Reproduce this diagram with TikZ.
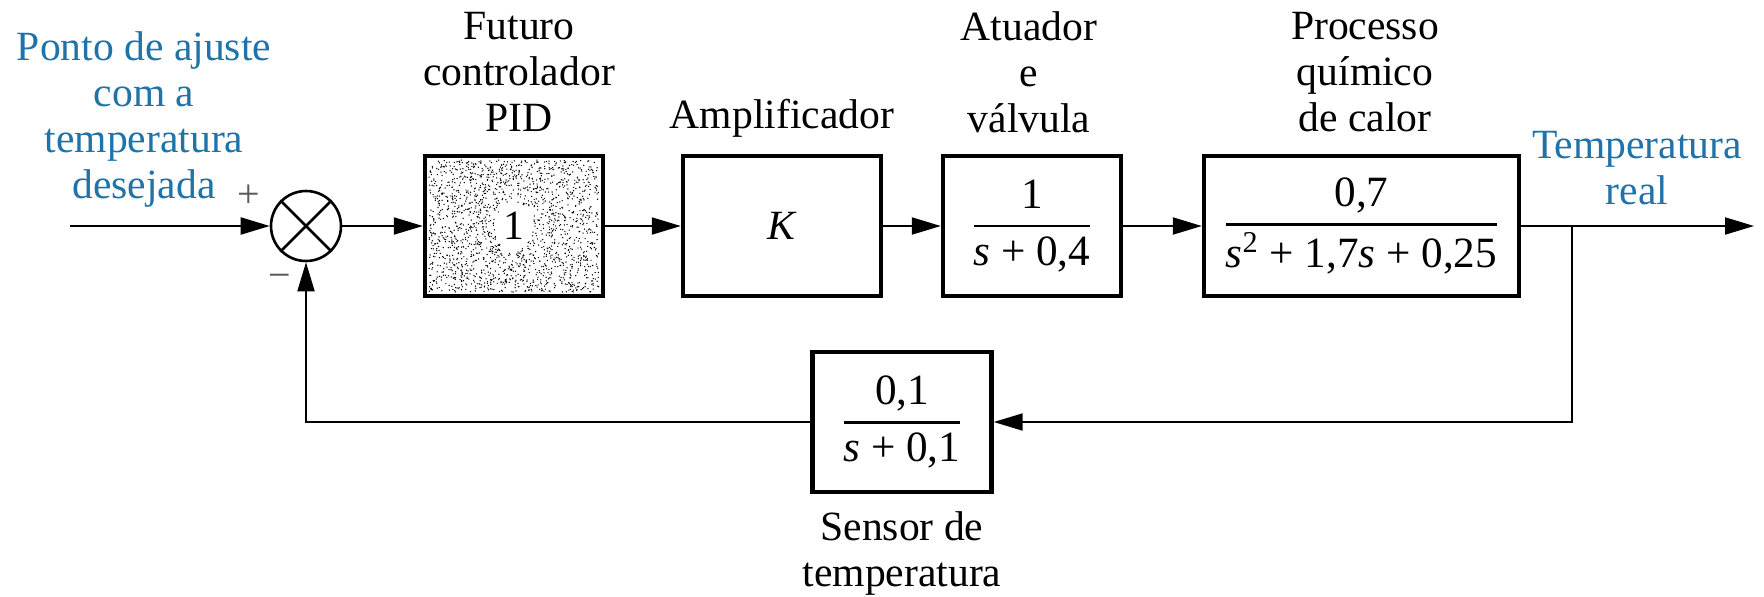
\documentclass[tikz,border=0pt]{standalone}
\usepackage{fontspec}
\setmainfont{LiberationSerif}[Extension=.ttf, UprightFont=*-Regular, BoldFont=*-Bold, ItalicFont=*-Italic, BoldItalicFont=*-BoldItalic]
\usepackage{amsmath}
\usetikzlibrary{arrows.meta}
\definecolor{lblue}{RGB}{31,115,168}
\newcommand{\tfr}[2]{$\genfrac{}{}{1.1pt}{0}{\text{#1}}{\text{#2}}$}
\begin{document}
\begin{tikzpicture}[x=0.5pt,y=-0.5pt,
  lbl/.style={font=\fontsize{20.8}{23}\selectfont, align=center, inner sep=0pt},
  blk/.style={draw, line width=2.2pt, minimum height=70pt, inner sep=0pt, font=\fontsize{20.8}{23}\selectfont},
  fr/.style={font=\fontsize{21.6}{26}\selectfont},
  conn/.style={line width=1pt, -{Triangle[length=14.5pt,width=8.5pt]}},
  sign/.style={font=\fontsize{20}{20}\selectfont, text=black!65, inner sep=0pt}]
\useasboundingbox (0,0) rectangle (1764,596);

% summing junction
\node[circle, draw, line width=1.3pt, minimum size=35pt, inner sep=0pt] (sum) at (306,226) {};
\draw[line width=1.3pt] (sum.north west) -- (sum.south east) (sum.north east) -- (sum.south west);

% blocks
\node[blk, minimum width=89pt] (pid) at (514,226) {1};
\node[blk, minimum width=99pt] (amp) at (782,226) {\textit{K}};
\node[blk, minimum width=89pt, fr] (act) at (1032,226) {\tfr{1}{\textit{s} + 0,4}};
\node[blk, minimum width=157.5pt, fr] (proc) at (1361.5,226) {\tfr{0,7}{\textit{s}\textsuperscript{2} + 1,7\textit{s} + 0,25}};
\node[blk, minimum width=89.5pt, fr] (sens) at (902,422) {\tfr{0,1}{\textit{s} + 0,1}};

% stipple in PID box
\pgfmathsetseed{7}
\foreach \i in {1,...,1900}{
  \pgfmathsetmacro\xx{429+170*rnd}
  \pgfmathsetmacro\yy{160+132*rnd}
  \pgfmathsetmacro\dd{((\xx-514)/19)^2+((\yy-226)/24)^2}
  \ifdim\dd pt>1pt \fill (\xx,\yy) circle (0.36pt); \fi
}

% labels
\node[lbl, text=lblue] (setp) at (144,119) {Ponto de ajuste\\com a\\temperatura\\desejada};
\node[lbl] (lpid) at (519,72) {Futuro\\controlador\\PID};
\node[lbl] (lamp) at (782,118) {Amplificador};
\node[lbl] (lact) at (1029,72) {Atuador\\e\\válvula};
\node[lbl] (lproc) at (1365,72) {Processo\\químico\\de calor};
\node[lbl, text=lblue] (lout) at (1637,168) {Temperatura\\real};
\node[lbl] (lsens) at (902,553) {Sensor de\\temperatura};
\node[sign] (plus) at (249,196) {+};
\node[sign] (minus) at (280,281) {−};

% connectors
\coordinate (in) at (70,226);
\coordinate (out) at (1754,226);
\coordinate (br) at (1572,226);
\draw[conn] (in) -- (sum.west);
\draw[conn] (sum.east) -- (pid.west);
\draw[conn] (pid.east) -- (amp.west);
\draw[conn] (amp.east) -- (act.west);
\draw[conn] (act.east) -- (proc.west);
\draw[conn] (proc.east) -- (out);
\draw[conn] (br) |- (sens.east);
\draw[conn] (sens.west) -| (sum.south);
\end{tikzpicture}
\end{document}
